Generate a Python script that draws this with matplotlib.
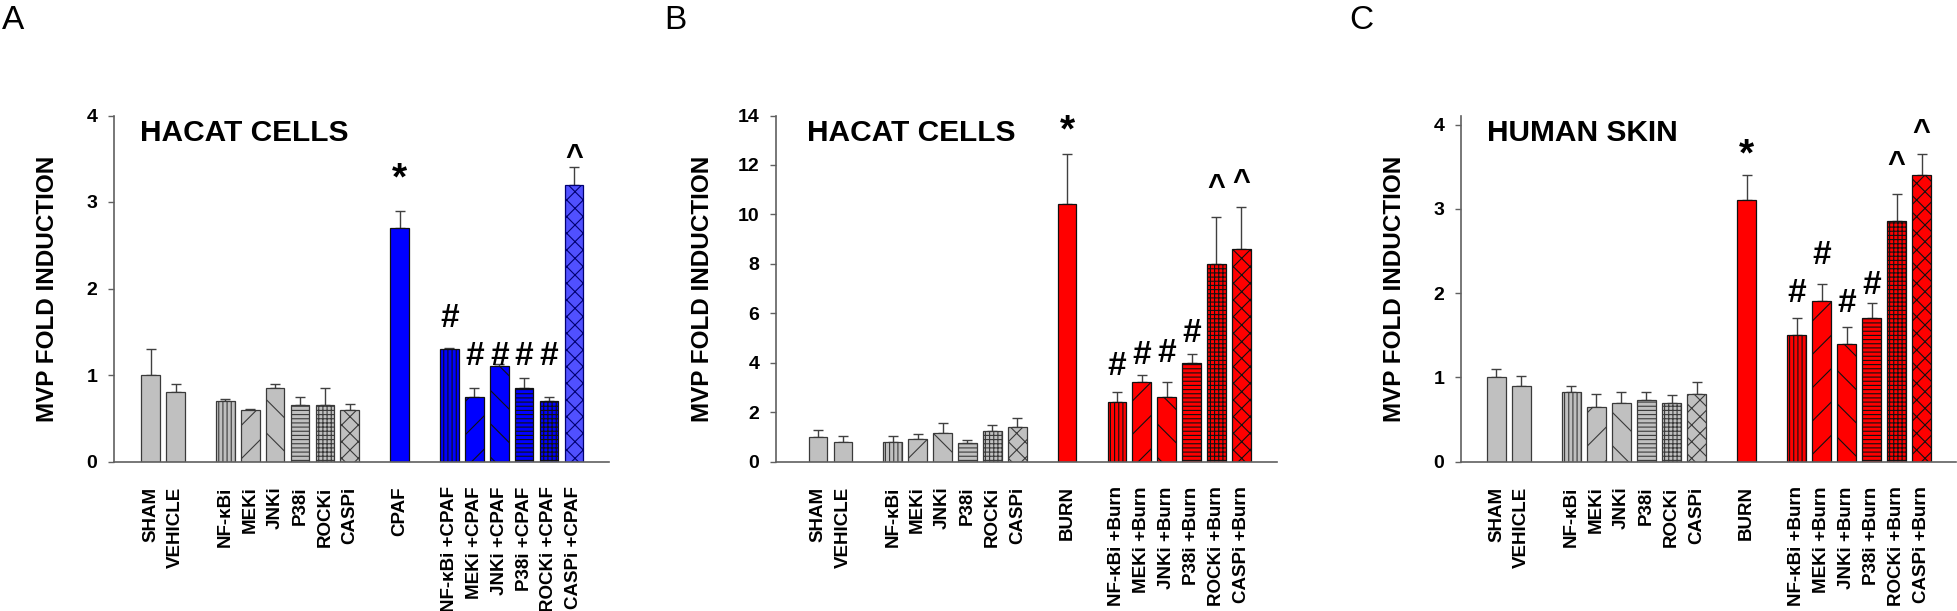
import matplotlib
matplotlib.use('Agg')
import matplotlib.pyplot as plt
import numpy as np

plt.rcParams['font.family'] = ['Liberation Sans', 'DejaVu Sans']
plt.rcParams['hatch.linewidth'] = 0.8

# ---------------- data ----------------
group_sizes = [2, 6, 1, 6]

labels_a = ['SHAM', 'VEHICLE', 'NF-κBi', 'MEKi', 'JNKi', 'P38i', 'ROCKi', 'CASPi',
            'CPAF', 'NF-κBi +CPAF', 'MEKi +CPAF', 'JNKi +CPAF', 'P38i +CPAF',
            'ROCKi +CPAF', 'CASPi +CPAF']
labels_bc = ['SHAM', 'VEHICLE', 'NF-κBi', 'MEKi', 'JNKi', 'P38i', 'ROCKi', 'CASPi',
             'BURN', 'NF-κBi +Burn', 'MEKi +Burn', 'JNKi +Burn', 'P38i +Burn',
             'ROCKi +Burn', 'CASPi +Burn']

vals_a = [1.0, 0.8, 0.7, 0.6, 0.85, 0.65, 0.65, 0.59, 2.7, 1.3, 0.75, 1.1, 0.85, 0.7, 3.2]
sem_a = [0.3, 0.1, 0.02, 0.005, 0.05, 0.1, 0.2, 0.08, 0.2, 0.015, 0.1, 0.03, 0.11, 0.05, 0.2]

vals_b = [1.0, 0.8, 0.8, 0.92, 1.15, 0.75, 1.22, 1.4, 10.4, 2.4, 3.2, 2.6, 4.0, 8.0, 8.6]
sem_b = [0.28, 0.25, 0.22, 0.2, 0.4, 0.13, 0.24, 0.38, 2.05, 0.4, 0.3, 0.6, 0.35, 1.9, 1.7]

vals_c = [1.0, 0.9, 0.82, 0.65, 0.7, 0.73, 0.69, 0.8, 3.1, 1.5, 1.9, 1.4, 1.7, 2.85, 3.4]
sem_c = [0.1, 0.12, 0.08, 0.15, 0.13, 0.1, 0.1, 0.14, 0.3, 0.2, 0.21, 0.2, 0.18, 0.32, 0.25]

# significance marks: (bar index, symbol, y of symbol centre)
marks_a = [(8, '*', 3.40), (9, '#', 1.69), (10, '#', 1.25), (11, '#', 1.25),
           (12, '#', 1.25), (13, '#', 1.25), (14, '^', 3.60)]
marks_b = [(8, '*', 13.84), (9, '#', 3.97), (10, '#', 4.44), (11, '#', 4.50),
           (12, '#', 5.30), (13, '^', 11.40), (14, '^', 11.60)]
marks_c = [(8, '*', 3.78), (9, '#', 2.03), (10, '#', 2.49), (11, '#', 1.92),
           (12, '#', 2.13), (13, '^', 3.61), (14, '^', 3.99)]

titles = ['HACAT CELLS', 'HACAT CELLS', 'HUMAN SKIN']
panel_letters = ['A', 'B', 'C']
ylims = [4.0, 14.0, 4.107]
yticks = [[0, 1, 2, 3, 4], [0, 2, 4, 6, 8, 10, 12, 14], [0, 1, 2, 3, 4]]

# ---------------- style ----------------
hatches = ['', '', '||||', '/', '\\', '----', '++++', 'xx',
           '', '||||', '/', '\\', '----', '++++', 'xx']
GRAY = '#c0c0c0'
W, H = 1958, 611
fig = plt.figure(figsize=(W / 100, H / 100), dpi=100)


def positions(sizes, gap=1):
    pos, x = [], 0
    for g in sizes:
        pos += list(range(x, x + g))
        x += g + gap
    return np.array(pos, dtype=float)


pos = positions(group_sizes)

# axes boxes in pixels: (left, right), shared bottom/top
boxes = [(114, 609), (776, 1277), (1461, 1956)]
xlims = [(-1.47, 18.41), (-1.69, 18.43), (-1.42, 18.38)]
ylabel_x = [-0.111, -0.1238, -0.111]
title_x = [0.0525, 0.0619, 0.0525]
letter_x = [2, 664, 1349]
y0_px, ytop_px = 461.5, 115.5

panels = [
    (labels_a, vals_a, sem_a, marks_a, '#0000ff'),
    (labels_bc, vals_b, sem_b, marks_b, '#ff0000'),
    (labels_bc, vals_c, sem_c, marks_c, '#ff0000'),
]

sym_size = {'#': 24, '*': 28, '^': 22}
sym_off = {'#': 0.10, '*': 0.31, '^': 0.26}

for i, (labels, vals, sem, marks, col) in enumerate(panels):
    l, r = boxes[i]
    ax = fig.add_axes([l / W, (H - y0_px) / H, (r - l) / W, (y0_px - ytop_px) / H])
    n = len(vals)
    faces, edges = [], []
    for k in range(n):
        if k < 8:
            faces.append(GRAY)
            edges.append('#3a3a3a')
        else:
            faces.append(col)
            edges.append('#111111')
    if i == 0:
        faces[14] = '#5050ff'
        edges[14] = '#000070'
    bars = ax.bar(pos, vals, width=0.75, color=faces, edgecolor=edges, linewidth=0.9,
                  zorder=2)
    for b, h in zip(bars, hatches):
        b.set_hatch(h)
    ax.errorbar(pos, vals, yerr=[np.zeros(n), sem], fmt='none', ecolor='#404040',
                elinewidth=1.0, capsize=3.6, capthick=1.0, zorder=1)

    for idx, s, yc in marks:
        fs = sym_size[s]
        ax.annotate(s, (pos[idx], yc), xytext=(0, -sym_off[s] * fs),
                    textcoords='offset points', ha='center', va='center',
                    fontsize=fs, fontweight='bold')

    ax.set_xlim(*xlims[i])
    ax.set_ylim(0, ylims[i])
    ax.set_xticks(pos)
    ax.set_xticklabels(labels, rotation=90, fontsize=13.5, fontweight='bold')
    ax.set_yticks(yticks[i])
    ax.set_yticklabels([str(t) for t in yticks[i]], fontsize=14, fontweight='bold')
    ax.tick_params(axis='x', length=0, pad=18)
    ax.tick_params(axis='y', direction='out', length=4, width=1, color='#606060', pad=8)
    for sp in ['top', 'right']:
        ax.spines[sp].set_visible(False)
    for sp in ['left', 'bottom']:
        ax.spines[sp].set_color('#606060')
        ax.spines[sp].set_linewidth(1.2)
    ax.set_ylabel('MVP FOLD INDUCTION', fontsize=17.5, fontweight='bold')
    ax.yaxis.set_label_coords(ylabel_x[i], 0.5)
    ax.text(title_x[i], (y0_px - 141) / (y0_px - ytop_px), titles[i],
            transform=ax.transAxes, ha='left', va='baseline',
            fontsize=21.5, fontweight='bold')
    fig.text(letter_x[i] / W, (H - 29) / H, panel_letters[i], ha='left',
             va='baseline', fontsize=24)

fig.savefig('out.png', dpi=100)
